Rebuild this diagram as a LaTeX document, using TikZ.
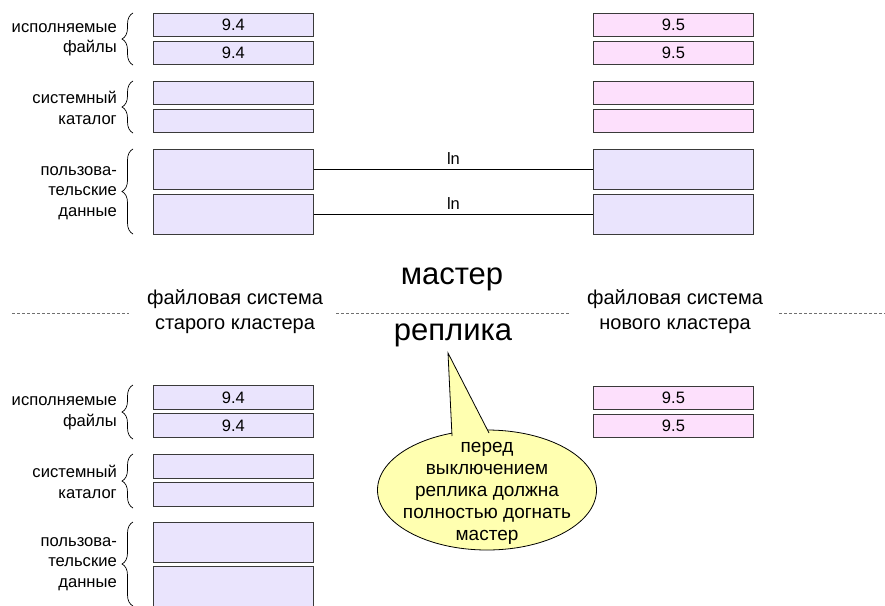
\documentclass[tikz,border=0pt]{standalone}
\usepackage{fontspec}
\setmainfont{Liberation Sans}
\usetikzlibrary{decorations.pathreplacing,shapes.geometric}
\definecolor{oldfill}{HTML}{EAE4FD}
\definecolor{newfill}{HTML}{FDE0FC}
\definecolor{callfill}{HTML}{FFFFB0}
\definecolor{boxline}{HTML}{3A3A3A}
\definecolor{dashcol}{HTML}{707070}
\begin{document}
\begin{tikzpicture}[x=1pt,y=-1pt,
  box/.style={draw=boxline, line width=0.9pt, minimum width=160pt, inner sep=0pt,
    font=\fontsize{16.5}{17}\selectfont, anchor=north west},
  oldbox/.style={box, fill=oldfill},
  newbox/.style={box, fill=newfill},
  lbl/.style={align=right, anchor=east, inner sep=0pt, font=\fontsize{16.6}{20.5}\selectfont},
  grpbrace/.style={decorate, decoration={brace, amplitude=11pt}, draw=black, line width=0.7pt},
  sep/.style={draw=dashcol, dash pattern=on 3pt off 2pt, line width=0.8pt},
  mid/.style={align=center, inner sep=0pt, font=\fontsize{20}{25}\selectfont},
  big/.style={inner sep=0pt, font=\fontsize{31}{33}\selectfont},
  link/.style={draw=black, line width=0.8pt}]
\useasboundingbox (0,0) rectangle (885,605);
\clip (0,0) rectangle (885,605);
\fill[white] (0,0) rectangle (885,605);

% ---------- master: old cluster
\node[oldbox, minimum height=23pt] (me1) at (153,13) {9.4};
\node[oldbox, minimum height=23pt] (me2) at (153,41) {9.4};
\node[oldbox, minimum height=23pt] (ms1) at (153,81) {};
\node[oldbox, minimum height=23pt] (ms2) at (153,109) {};
\node[oldbox, minimum height=40pt] (md1) at (153,149) {};
\node[oldbox, minimum height=40pt] (md2) at (153,194) {};

% ---------- master: new cluster
\node[newbox, minimum height=23pt] (ne1) at (593,13) {9.5};
\node[newbox, minimum height=23pt] (ne2) at (593,41) {9.5};
\node[newbox, minimum height=23pt] (ns1) at (593,81) {};
\node[newbox, minimum height=23pt] (ns2) at (593,109) {};
\node[oldbox, minimum height=40pt] (nd1) at (593,149) {};
\node[oldbox, minimum height=40pt] (nd2) at (593,194) {};

\draw[link] (md1.east) -- node[above=1pt, font=\fontsize{16.5}{17}\selectfont] {ln} (nd1.west);
\draw[link] (md2.east) -- node[above=1pt, font=\fontsize{16.5}{17}\selectfont] {ln} (nd2.west);

% braces & labels (master)
\draw[grpbrace] (133,65) -- (133,13);
\draw[grpbrace] (133,133) -- (133,81);
\draw[grpbrace] (133,234) -- (133,149);
\node[lbl] (lm1) at (117,40) {исполняемые\\файлы};
\node[lbl] (lm2) at (117,108) {системный\\каталог};
\node[lbl] (lm3) at (117,193) {пользова-\\тельские\\данные};

% ---------- separator
\node[mid] (fsold) at (235,312) {файловая система\\старого кластера};
\node[mid] (fsnew) at (675,312) {файловая система\\нового кластера};
\node[big] (master) at (452,279) {мастер};
\node[big] (replica) at (453,335) {реплика};
\coordinate (s0) at (12,313);
\coordinate (s1) at (129,313);
\coordinate (s2) at (336,313);
\coordinate (s3) at (570,313);
\coordinate (s4) at (779,313);
\coordinate (s5) at (885,313);
\draw[sep] (s0) -- (s1);
\draw[sep] (s2) -- (s3);
\draw[sep] (s4) -- (s5);

% ---------- replica: old cluster
\node[oldbox, minimum height=24pt] (re1) at (153,385) {9.4};
\node[oldbox, minimum height=24pt] (re2) at (153,413) {9.4};
\node[oldbox, minimum height=24pt] (rs1) at (153,454) {};
\node[oldbox, minimum height=24pt] (rs2) at (153,482) {};
\node[oldbox, minimum height=40pt] (rd1) at (153,522) {};
\node[oldbox, minimum height=50pt] (rd2) at (153,566) {};

% replica: new cluster
\node[newbox, minimum height=23pt] (qe1) at (593,386) {9.5};
\node[newbox, minimum height=23pt] (qe2) at (593,414) {9.5};

\draw[grpbrace] (133,439) -- (133,385);
\draw[grpbrace] (133,508) -- (133,454);
\draw[grpbrace] (133,606) -- (133,522);
\node[lbl] (lr1) at (117,413) {исполняемые\\файлы};
\node[lbl] (lr2) at (117,482) {системный\\каталог};
\node[lbl] (lr3) at (117,564) {пользова-\\тельские\\данные};

% ---------- callout
\node[ellipse, draw=black, line width=0.8pt, fill=callfill, minimum width=219pt,
  minimum height=120pt, inner sep=0pt] (call) at (487,490) {};
\coordinate (ta) at (452,436);
\coordinate (tb) at (489,433);
\coordinate (tip) at (448,353);
\fill[callfill] (ta) -- (tip) -- (tb) -- cycle;
\draw[line width=0.8pt, line join=miter] (ta) -- (tip) -- (tb);
\node[align=center, inner sep=0pt, font=\fontsize{19}{22}\selectfont] (calltext) at (487,493)
  {перед\\выключением\\реплика должна\\полностью догнать\\мастер};
\end{tikzpicture}
\end{document}
